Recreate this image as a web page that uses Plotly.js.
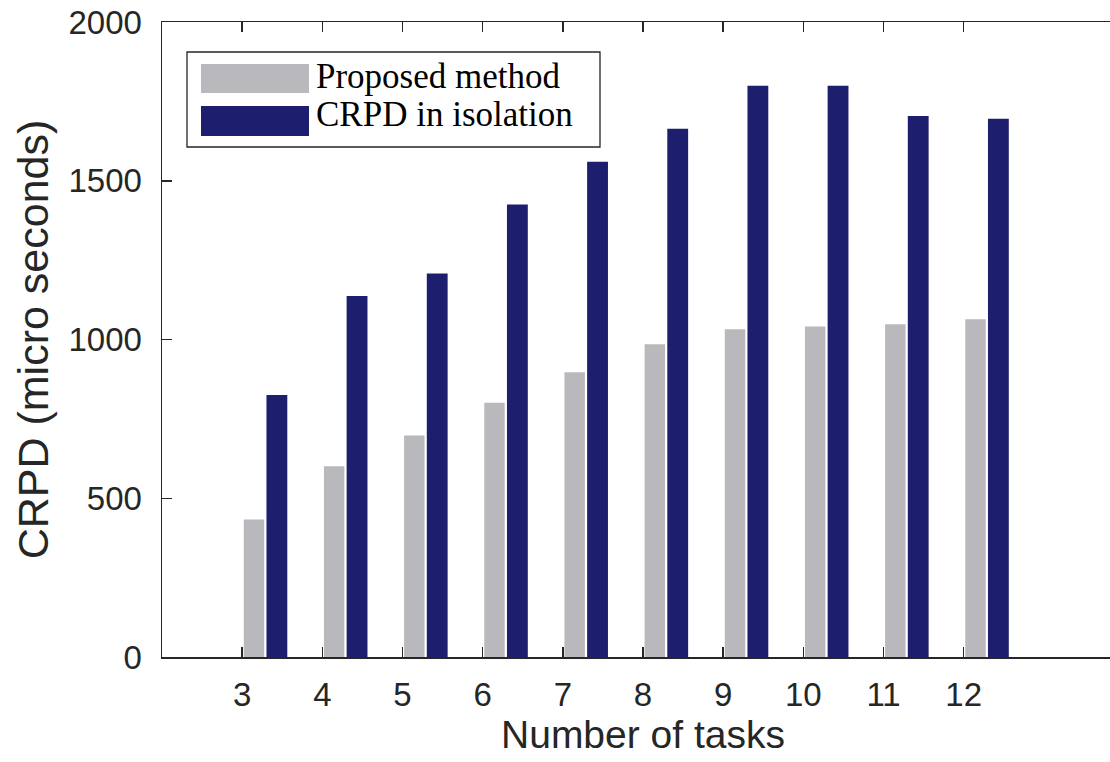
<!DOCTYPE html>
<html>
<head>
<meta charset="utf-8">
<script src="https://cdn.plot.ly/plotly-3.0.1.min.js"></script>
<style>
  html, body { margin: 0; padding: 0; overflow: hidden; background: #fff; }
  #chart { width: 1132px; height: 762px; }
</style>
</head>
<body>
<div id="chart"></div>
<script>
// ---- data ----
var tasks = [3, 4, 5, 6, 7, 8, 9, 10, 11, 12];
var proposed = [433, 601, 698, 801, 897, 985, 1032, 1041, 1048, 1064];
var isolation = [825, 1137, 1208, 1425, 1560, 1664, 1799, 1799, 1704, 1695];
var seriesNames = ["Proposed method", "CRPD in isolation"];
var yTicks = [0, 500, 1000, 1500, 2000];

// ---- styling ----
var grayColor = "#b8b8bd";
var blueColor = "#1e1e6e";
var axisColor = "#262626";

var W = 1132, H = 762;
var M = { l: 162, r: 8, t: 22, b: 105 };
var plotW = W - M.l - M.r, plotH = H - M.t - M.b;
function px2x(px) { return (px - M.l) / plotW; }
function px2y(py) { return (H - M.b - py) / plotH; }

var traces = [
  {
    type: "bar", x: tasks, y: proposed, name: seriesNames[0],
    offset: 0.02, width: 0.255,
    marker: { color: grayColor, line: { width: 0 } },
    showlegend: false, hoverinfo: "x+y"
  },
  {
    type: "bar", x: tasks, y: isolation, name: seriesNames[1],
    offset: 0.303, width: 0.26,
    marker: { color: blueColor, line: { width: 0 } },
    showlegend: false, hoverinfo: "x+y"
  }
];

// legend drawn as shapes + text (large MATLAB-style patches)
var legendBox = { x0: 187, x1: 600, y0: 52, y1: 147 };
var patches = [
  { x0: 201, x1: 309, y0: 64, y1: 93, color: grayColor },
  { x0: 201, x1: 309, y0: 106, y1: 136, color: blueColor }
];
var shapes = [{
  type: "rect", xref: "paper", yref: "paper",
  x0: px2x(legendBox.x0), x1: px2x(legendBox.x1),
  y0: px2y(legendBox.y1), y1: px2y(legendBox.y0),
  line: { color: axisColor, width: 1.3 }, fillcolor: "#fff", layer: "above"
}];
var annotations = [];
patches.forEach(function (p, i) {
  shapes.push({
    type: "rect", xref: "paper", yref: "paper",
    x0: px2x(p.x0), x1: px2x(p.x1), y0: px2y(p.y1), y1: px2y(p.y0),
    line: { width: 0 }, fillcolor: p.color, layer: "above"
  });
  annotations.push({
    xref: "paper", yref: "paper", x: px2x(314), y: px2y([77, 114][i]),
    xanchor: "left", yanchor: "middle", showarrow: false,
    text: seriesNames[i],
    font: { family: "Liberation Serif, Times New Roman, serif", size: 35, color: "#000" }
  });
});

var layout = {
  width: W, height: H,
  margin: M,
  paper_bgcolor: "#fff", plot_bgcolor: "#fff",
  barmode: "overlay",
  showlegend: false,
  font: { family: "Liberation Sans, Arial, Helvetica, sans-serif", color: axisColor },
  xaxis: {
    range: [2, 14],
    tickmode: "array", tickvals: tasks, ticktext: tasks.map(String),
    ticks: "inside", ticklen: 10, tickwidth: 1.5, tickcolor: axisColor,
    showline: true, linecolor: axisColor, linewidth: 1.5, mirror: "ticks",
    showgrid: false, zeroline: false,
    tickfont: { size: 33, color: axisColor },
    ticklabelstandoff: 8,
    title: { text: "Number of tasks", font: { size: 39, color: axisColor }, standoff: 6 }
  },
  yaxis: {
    range: [0, 2000],
    tickmode: "array", tickvals: yTicks, ticktext: yTicks.map(String),
    ticks: "inside", ticklen: 10, tickwidth: 1.5, tickcolor: axisColor,
    showline: true, linecolor: axisColor, linewidth: 1.5, mirror: "ticks",
    showgrid: false, zeroline: false,
    tickfont: { size: 33, color: axisColor },
    ticklabelstandoff: 12,
    title: { text: "CRPD (micro seconds)", font: { size: 43, color: axisColor }, standoff: 6 }
  },
  shapes: shapes,
  annotations: annotations
};

Plotly.newPlot("chart", traces, layout, { staticPlot: true, displayModeBar: false });
</script>
</body>
</html>
